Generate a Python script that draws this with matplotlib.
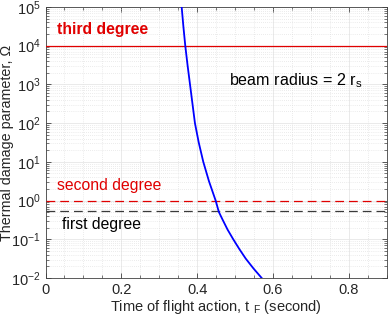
import matplotlib
matplotlib.use("Agg")
import matplotlib.pyplot as plt
from matplotlib.ticker import LogLocator, MultipleLocator, NullFormatter

plt.rcParams['font.family'] = ['Liberation Sans', 'DejaVu Sans']
plt.rcParams['mathtext.default'] = 'regular'

# curve
t_vals = [0.359, 0.3635, 0.3685, 0.3745, 0.381, 0.3875, 0.394, 0.404, 0.416,
          0.431, 0.4486, 0.457, 0.467, 0.480, 0.495, 0.511, 0.528, 0.548, 0.570]
omega_vals = [1e5, 3.16e4, 1e4, 3.16e3, 1e3, 316, 1e2, 31.6, 1e1,
              3.16, 1.0, 0.51, 0.32, 0.178, 0.1, 0.056, 0.0316, 0.0178, 0.01]

third_degree = 1e4
second_degree = 1.0
first_degree = 0.53

xticks = [0, 0.2, 0.4, 0.6, 0.8]

fig = plt.figure(figsize=(3.88, 3.2), dpi=100)
ax = fig.add_axes([0.1173, 0.13125, 0.8797, 0.847])

txtc = '#262626'
ax.semilogy(t_vals, omega_vals, color='#0000ff', lw=1.3, zorder=5)
ax.axhline(third_degree, color='#e00000', lw=0.9, zorder=4)
ax.axhline(second_degree, color='#e00000', lw=0.9, ls=(0, (7, 4)), zorder=4)
ax.axhline(first_degree, color='#3a3a3a', lw=0.9, ls=(0, (7, 4)), zorder=4)

ax.set_xlim(0, 0.9)
ax.set_ylim(1e-2, 1e5)
ax.set_xticks(xticks)
ax.set_xticklabels(['0', '0.2', '0.4', '0.6', '0.8'])
ax.xaxis.set_minor_locator(MultipleLocator(0.05))
ax.yaxis.set_major_locator(LogLocator(base=10, numticks=20))
ax.yaxis.set_minor_locator(LogLocator(base=10, subs=range(2, 10), numticks=20))
ax.yaxis.set_minor_formatter(NullFormatter())

ax.grid(True, which='major', color='#e6e6e6', lw=0.6)
ax.grid(True, which='minor', color='#d9d9d9', lw=0.5, ls=(0, (1, 2)))
ax.set_axisbelow(True)

ax.tick_params(which='both', direction='in', top=True, right=True, colors='#404040',
               labelcolor=txtc, labelsize=10.5)
ax.tick_params(which='major', length=3.5, width=0.6)
ax.tick_params(which='minor', length=2, width=0.5)
for s in ax.spines.values():
    s.set_color('#404040')
    s.set_linewidth(0.6)

ax.set_xlabel('Time of flight action, t $_F$ (second)', fontsize=10.5, color=txtc, labelpad=1)
ax.set_ylabel('Thermal damage parameter, \u03a9', fontsize=10.3, color=txtc)
ax.yaxis.set_label_coords(-0.092, 0.5)

ax.text(0.031, 2.6e4, 'third degree', color='#e00000', fontsize=11.3, fontweight='bold', va='center', ha='left')
ax.text(0.029, 2.5, 'second degree', color='#e00000', fontsize=11.3, va='center', ha='left')
ax.text(0.044, 0.245, 'first degree', color='black', fontsize=11.3, va='center', ha='left')
ax.text(0.485, 1.25e3, 'beam radius = 2 r$_s$', color='black', fontsize=11.6, va='center', ha='left')

fig.savefig('out.png', dpi=100)
